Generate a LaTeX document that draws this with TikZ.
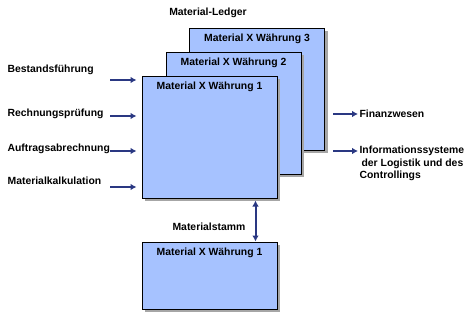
\documentclass[tikz,border=0pt]{standalone}
\usepackage{fontspec}
\setmainfont{Liberation Sans}
\usetikzlibrary{positioning,arrows.meta,calc,shadows}

\definecolor{ledgerblue}{RGB}{166,194,255}
\definecolor{arrowblue}{RGB}{42,56,130}

\begin{document}
\begin{tikzpicture}[x=0.75pt,y=-0.75pt,>={Latex[length=4.5pt,width=5pt]},
  every node/.style={font=\fontsize{7.8}{9.4}\selectfont\bfseries},
  ledgerbox/.style={draw=black,line width=0.75pt,fill=ledgerblue,
    minimum width=101.25pt,minimum height=91.5pt,
    drop shadow={shadow xshift=2.25pt,shadow yshift=-2.25pt,fill=black!35,opacity=1}},
  feed/.style={->,draw=arrowblue,line width=1.5pt},
  lbl/.style={inner sep=1pt}]
  \useasboundingbox (0,0) rectangle (476,318);

  % material ledger stack, back to front
  \node[ledgerbox] (box3) at (257,89) {};
  \node[lbl,below=4pt of box3.north] (t3) {Material X Währung 3};
  \node[ledgerbox] (box2) at (233.5,113) {};
  \node[lbl,below=4pt of box2.north] (t2) {Material X Währung 2};
  \node[ledgerbox] (box1) at (209.5,137) {};
  \node[lbl,below=4pt of box1.north] (t1) {Material X Währung 1};
  \node[lbl] (ledger) at (208,13) {Material-Ledger};

  % material master
  \node[ledgerbox,minimum height=50.25pt] (box4) at (209.5,275.5) {};
  \node[lbl,below=4pt of box4.north] (t4) {Material X Währung 1};
  \node[lbl] (stamm) at (209,227) {Materialstamm};
  \draw[feed,<->,shorten <=1.5pt] ([xshift=-16.5pt]box1.south east) -- ([xshift=-16.5pt]box4.north east);

  % inputs
  \node[lbl,anchor=west] (in1) at (6,70) {Bestandsführung};
  \node[lbl,anchor=west] (in2) at (6,114) {Rechnungsprüfung};
  \node[lbl,anchor=west] (in3) at (6,149) {Auftragsabrechnung};
  \node[lbl,anchor=west] (in4) at (6,181) {Materialkalkulation};
  \coordinate (from1) at (110,80);
  \coordinate (from2) at (110,116);
  \coordinate (from3) at (110,151);
  \coordinate (from4) at (110,187);
  \draw[feed,shorten >=3.75pt] (from1) -- (from1 -| box1.west);
  \draw[feed,shorten >=3.75pt] (from2) -- (from2 -| box1.west);
  \draw[feed,shorten >=3.75pt] (from3) -- (from3 -| box1.west);
  \draw[feed,shorten >=3.75pt] (from4) -- (from4 -| box1.west);

  % outputs
  \node[lbl,anchor=west] (fin) at (358,114) {Finanzwesen};
  \node[lbl,anchor=north west,align=left] (info) at (358,144.5)
    {Informationssysteme\\\hspace*{1.5pt}der Logistik und des\\Controllings};
  \coordinate (to2) at (358,151);
  \draw[feed] ($(fin.west -| box3.east)+(8,0)$) -- (fin.west);
  \draw[feed] ($(to2 -| box3.east)+(8,0)$) -- (to2);
\end{tikzpicture}
\end{document}
